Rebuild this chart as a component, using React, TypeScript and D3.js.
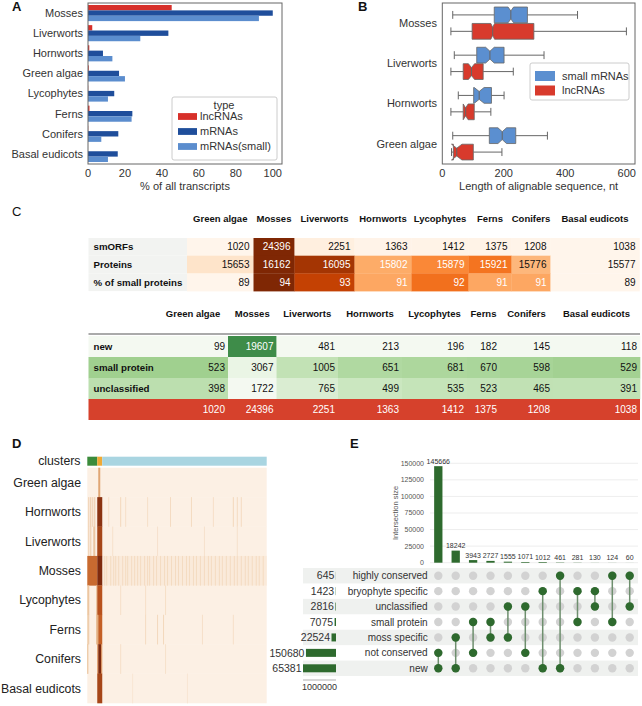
import React from "react";
import * as d3 from "d3";

const FONT = "'Liberation Sans', Arial, Helvetica, sans-serif";

// ---------------- Panel A data ----------------
const speciesA = ["Mosses", "Liverworts", "Hornworts", "Green algae", "Lycophytes", "Ferns", "Conifers", "Basal eudicots"];
const typesA = ["lncRNAs", "mRNAs", "mRNAs(small)"];
const lncRNAsPct = [45.3, 2.3, 0.7, 0.4, 0.1, 0.8, 0.1, 0];
const mRNAsPct = [100, 43.5, 8.1, 16.8, 14.2, 24, 16.4, 16.1];
const mRNAsSmallPct = [92.5, 28.3, 13.2, 20, 10.8, 23.6, 7.2, 10.8];
const ticksA = [0, 20, 40, 60, 80, 100];

// ---------------- Panel B data ----------------
const speciesB = ["Mosses", "Liverworts", "Hornworts", "Green algae"];
const groupsB = ["small mRNAs", "lncRNAs"];
// [whisker low, Q1, median, Q3, whisker high, notch half-width]
const smallMrnaBox = [
  [34, 169, 223, 277, 440, 9],
  [39, 112, 155, 201, 331, 14],
  [52, 102, 120, 160, 201, 16],
  [34, 153, 195, 239, 342, 14],
];
const lncRnaBox = [
  [28, 97, 164, 298, 599, 6],
  [28, 68, 95, 133, 231, 10],
  [28, 68, 76, 104, 158, 8],
  [30, 36, 47, 101, 194, 17],
];
const ticksB = [0, 200, 400, 600];

// ---------------- Panel C data ----------------
const speciesC = ["Green algae", "Mosses", "Liverworts", "Hornworts", "Lycophytes", "Ferns", "Conifers", "Basal eudicots"];
const smORFs = [1020, 24396, 2251, 1363, 1412, 1375, 1208, 1038];
const proteins = [15653, 16162, 16095, 15802, 15879, 15921, 15776, 15577];
const pctSmall = [89, 94, 93, 91, 92, 91, 91, 89];
const newCounts = [99, 19607, 481, 213, 196, 182, 145, 118];
const smallProteinCounts = [523, 3067, 1005, 651, 681, 670, 598, 529];
const unclassifiedCounts = [398, 1722, 765, 499, 535, 523, 465, 391];

// ---------------- Panel D data ----------------
const heatRows = ["Green algae", "Hornworts", "Liverworts", "Mosses", "Lycophytes", "Ferns", "Conifers", "Basal eudicots"];
const clusterSizes = [10, 5, 165];
// [row, first column, last column, intensity]
const heatCells: [number, number, number, number][] = [
  [0, 11, 12, 0.4],
  [1, 1, 1, 0.18], [1, 3, 3, 0.22], [1, 5, 5, 0.18], [1, 7, 7, 0.2], [1, 10, 14, 0.95],
  [1, 21, 21, 0.08], [1, 33, 33, 0.12], [1, 38, 38, 0.08], [1, 60, 60, 0.08], [1, 83, 83, 0.1],
  [1, 104, 104, 0.1], [1, 126, 126, 0.08], [1, 146, 146, 0.12], [1, 150, 150, 0.1], [1, 154, 154, 0.1],
  [2, 1, 1, 0.18], [2, 3, 3, 0.2], [2, 6, 7, 0.22], [2, 10, 14, 0.85],
  [2, 25, 25, 0.07], [2, 70, 70, 0.07], [2, 117, 117, 0.07], [2, 150, 150, 0.07],
  [3, 15, 179, 0.03], [3, 0, 9, 0.68], [3, 10, 14, 1],
  [4, 0, 1, 0.22], [4, 9, 9, 0.3], [4, 10, 14, 0.78], [4, 33, 33, 0.08], [4, 58, 58, 0.08], [4, 78, 78, 0.08],
  [5, 0, 1, 0.18], [5, 9, 10, 0.35], [5, 11, 14, 0.72], [5, 58, 58, 0.1], [5, 70, 70, 0.12],
  [5, 76, 76, 0.12], [5, 115, 115, 0.08], [5, 146, 146, 0.08],
  [6, 0, 0, 0.28], [6, 10, 10, 0.55], [6, 11, 13, 1], [6, 14, 14, 0.55], [6, 33, 33, 0.08], [6, 78, 78, 0.07],
  [7, 10, 14, 0.85], [7, 45, 45, 0.05], [7, 100, 100, 0.05],
];
const mossStripeCols = [17, 19, 23, 26, 28, 31, 35, 38, 40, 44, 47, 50, 53, 57, 60, 62, 66, 69, 73, 77, 80, 84, 88, 91, 95, 99, 102, 106, 109, 113, 117, 121, 124, 128, 132, 135, 139, 143, 147, 150, 154, 158, 161, 165, 169, 172, 176];
const mossStripeLevel = 0.1;

// ---------------- Panel E data ----------------
const setNames = ["highly conserved", "bryophyte specific", "unclassified", "small protein", "moss specific", "not conserved", "new"];
const setSizes = [645, 1423, 2816, 7075, 22524, 150680, 165381];
const setSizeLabels = ["645", "1423", "2816", "7075", "22524", "150680", "65381"];
const intersectionSizes = [145666, 18242, 3943, 2727, 1555, 1071, 1012, 461, 281, 130, 124, 60];
const intersectionMembers = [
  ["not conserved", "new"], ["moss specific", "new"], ["small protein", "not conserved"],
  ["small protein", "moss specific"], ["unclassified", "moss specific"], ["unclassified", "not conserved"],
  ["bryophyte specific", "new"], ["highly conserved", "new"], ["bryophyte specific", "small protein"],
  ["bryophyte specific", "unclassified"], ["highly conserved", "small protein"], ["highly conserved", "unclassified"],
];
const intersectionTicks = [0, 25000, 50000, 75000, 100000, 125000, 150000];
const setSizeAxisLabel = "1000000";

// ---------------- styles ----------------
const colorsA = ["#d7302a", "#1f4e9b", "#5b8dce"];
const colorsB = ["#5b8fd0", "#d83a2c"];
const clusterColors = ["#3b8b3b", "#f0a935", "#a9d5e1"];
const green = "#2e6a2e";

export default function App() {
  // ===== A =====
  const xA = d3.scaleLinear().domain([0, 105]).range([88, 282]);
  const yA = d3.scaleBand<string>().domain(speciesA).range([3, 164]);
  const yAi = d3.scaleBand<string>().domain(typesA).range([0.1 * yA.step(), 0.9 * yA.step()]);
  const seriesA = [lncRNAsPct, mRNAsPct, mRNAsSmallPct];

  // ===== B =====
  const xB = d3.scaleLinear().domain([0, 627]).range([442.3, 635]);
  const yB = d3.scaleBand<string>().domain(speciesB).range([3, 164]);
  const yBi = d3.scaleBand<string>().domain(groupsB).range([0.1 * yB.step(), 0.9 * yB.step()]).paddingInner(0.04);
  const boxesB = [smallMrnaBox, lncRnaBox];

  const notchPath = (b: number[], yc: number, h: number) => {
    const [, q1, med, q3, , n] = b;
    const t = yc - h / 2, bo = yc + h / 2, tq = yc - h / 4, bq = yc + h / 4;
    return `M${xB(q1)},${t}L${xB(med - n)},${t}L${xB(med)},${tq}L${xB(med + n)},${t}L${xB(q3)},${t}` +
      `L${xB(q3)},${bo}L${xB(med + n)},${bo}L${xB(med)},${bq}L${xB(med - n)},${bo}L${xB(q1)},${bo}Z`;
  };

  // ===== C =====
  const t1Widths = [98.5, 66.5, 41, 60, 57, 57, 43, 39, 89];
  const t2Widths = [69.5, 70, 48.5, 61.5, 64, 65, 33, 53, 87];
  const tableX0 = 88.5;
  const edges = (w: number[]) => [tableX0, ...Array.from(d3.cumsum(w), (s) => tableX0 + s)];
  const e1 = edges(t1Widths);
  const e2 = edges(t2Widths);
  const t1Rows = [
    { label: "smORFs", vals: smORFs },
    { label: "Proteins", vals: proteins },
    { label: "% of small proteins", vals: pctSmall },
  ];
  const t2Rows = [
    { label: "new", vals: newCounts },
    { label: "small protein", vals: smallProteinCounts },
    { label: "unclassified", vals: unclassifiedCounts },
  ];
  const greenScale = d3.scaleLinear<string>().domain([0, 0.25, 0.46, 0.8]).range(["#f4f9f1", "#cbe7c0", "#a0d08f", "#3b8a47"]).clamp(true);
  const t1Top = 238, t1H = 17.7, t2Top = 336, t2H = 21;
  const hdrFont = 9.5, valFont = 10, lblFont = 9.7;

  // ===== D =====
  const nCols = d3.sum(clusterSizes);
  const xH = d3.scaleLinear().domain([0, nCols]).range([87.3, 266.7]);
  const yH = d3.scaleBand<string>().domain(heatRows).range([467.7, 703]);
  const heatColor = d3.scaleLinear<string>().domain([0, 0.1, 0.3, 0.55, 0.75, 1])
    .range(["#fcf0e4", "#f4dbc1", "#e6b88c", "#d88a50", "#c0581f", "#7e2a0e"]).clamp(true);
  const clusterStarts = [0, ...Array.from(d3.cumsum(clusterSizes))];
  const allHeat: [number, number, number, number][] = [
    ...heatCells.slice(0, 25),
    ...mossStripeCols.map((c) => [3, c, c, mossStripeLevel] as [number, number, number, number]),
    ...heatCells.slice(25),
  ];

  // ===== E =====
  const idx = intersectionSizes.map((_, i) => i);
  const xE = d3.scalePoint<number>().domain(idx).range([438.3, 629.7]);
  const yE = d3.scaleLinear().domain([0, 150000]).range([562.7, 463.3]);
  const yM = d3.scalePoint<string>().domain(setNames).range([575.7, 668.3]);
  const xS = d3.scaleLinear().domain([0, d3.max(setSizes) as number]).range([336, 303]);
  const rowStep = yM.step();

  return (
    <svg width={642} height={706} style={{ position: "absolute", left: 0, top: 0, background: "#fff" }} fontFamily={FONT}>
      {/* ================= A ================= */}
      <text x={12} y={11} fontSize={13} fontWeight="bold" fill="#111">A</text>
      {speciesA.map((s, i) => (
        <g key={s}>
          {seriesA.map((ser, k) => (
            <rect key={k} x={xA(0)} y={(yA(s) as number) + (yAi(typesA[k]) as number)}
              width={xA(ser[i]) - xA(0)} height={yAi.bandwidth()} fill={colorsA[k]} />
          ))}
          <text x={83} y={(yA(s) as number) + yA.bandwidth() / 2} dy="0.35em" textAnchor="end" fontSize={11} fill="#333">{s}</text>
        </g>
      ))}
      <rect x={88} y={3} width={194} height={161} fill="none" stroke="#666" strokeWidth={1} />
      {ticksA.map((t) => (
        <text key={t} x={xA(t)} y={177} textAnchor="middle" fontSize={11} fill="#333">{t}</text>
      ))}
      <text x={185} y={190} textAnchor="middle" fontSize={11} fill="#333">% of all transcripts</text>
      <g>
        <rect x={172} y={97} width={105} height={63} fill="#fff" fillOpacity={0.85} stroke="#ccc" rx={2} />
        <text x={224} y={109} textAnchor="middle" fontSize={11} fill="#333">type</text>
        {typesA.map((t, k) => (
          <g key={t}>
            <rect x={178} y={116.5 + k * 15 - 3.4} width={19} height={6.8} fill={colorsA[k]} />
            <text x={200} y={116.5 + k * 15} dy="0.35em" fontSize={11} fill="#333">{t}</text>
          </g>
        ))}
      </g>

      {/* ================= B ================= */}
      <text x={358} y={11} fontSize={13} fontWeight="bold" fill="#111">B</text>
      {speciesB.map((s, i) => (
        <g key={s}>
          {groupsB.map((g, k) => {
            const b = boxesB[k][i];
            const h = yBi.bandwidth();
            const yc = (yB(s) as number) + (yBi(g) as number) + h / 2;
            const [lo, q1, med, q3, hi] = b;
            return (
              <g key={g}>
                <line x1={xB(lo)} x2={xB(q1)} y1={yc} y2={yc} stroke="#666" strokeWidth={1} />
                <line x1={xB(q3)} x2={xB(hi)} y1={yc} y2={yc} stroke="#666" strokeWidth={1} />
                <line x1={xB(lo)} x2={xB(lo)} y1={yc - h / 4} y2={yc + h / 4} stroke="#666" strokeWidth={1} />
                <line x1={xB(hi)} x2={xB(hi)} y1={yc - h / 4} y2={yc + h / 4} stroke="#666" strokeWidth={1} />
                <path d={notchPath(b, yc, h)} fill={colorsB[k]} stroke="#666" strokeWidth={0.8} />
                <line x1={xB(med)} x2={xB(med)} y1={yc - h / 4} y2={yc + h / 4} stroke="#666" strokeWidth={1} />
              </g>
            );
          })}
          <text x={437} y={(yB(s) as number) + yB.bandwidth() / 2} dy="0.35em" textAnchor="end" fontSize={11} fill="#333">{s}</text>
        </g>
      ))}
      <rect x={442.3} y={3} width={192.7} height={161} fill="none" stroke="#666" strokeWidth={1} />
      {ticksB.map((t) => (
        <text key={t} x={xB(t)} y={177} textAnchor="middle" fontSize={11} fill="#333">{t}</text>
      ))}
      <text x={538.6} y={190} textAnchor="middle" fontSize={11} fill="#333">Length of alignable sequence, nt</text>
      <g>
        <rect x={530} y={63} width={99} height={37} fill="#fff" fillOpacity={0.85} stroke="#ccc" rx={2} />
        {groupsB.map((g, k) => (
          <g key={g}>
            <rect x={535} y={76 + k * 14.5 - 5} width={20} height={10} fill={colorsB[k]} />
            <text x={562} y={76 + k * 14.5} dy="0.35em" fontSize={11} fill="#333">{g}</text>
          </g>
        ))}
      </g>

      {/* ================= C ================= */}
      <text x={12} y={216} fontSize={13} fill="#111">C</text>
      {/* table 1 */}
      {speciesC.map((s, j) => (
        <text key={s} x={(e1[j + 1] + e1[j + 2]) / 2} y={222} textAnchor="middle" fontSize={hdrFont} fontWeight="bold" fill="#111">{s}</text>
      ))}
      {t1Rows.map((r, ri) => {
        const y = t1Top + ri * t1H;
        const mn = d3.min(r.vals) as number, mx = d3.max(r.vals) as number;
        return (
          <g key={r.label}>
            <rect x={e1[0]} y={y} width={e1[1] - e1[0]} height={t1H} fill="#f2f3f1" />
            <text x={e1[0] + 5} y={y + t1H / 2} dy="0.35em" fontSize={lblFont} fontWeight="bold" fill="#111">{r.label}</text>
            {r.vals.map((v, j) => {
              const t = (v - mn) / (mx - mn);
              return (
                <g key={j}>
                  <rect x={e1[j + 1]} y={y} width={e1[j + 2] - e1[j + 1] + 0.3} height={t1H + 0.3} fill={d3.interpolateOranges(t)} />
                  <text x={e1[j + 2] - 4} y={y + t1H / 2} dy="0.35em" textAnchor="end" fontSize={valFont} fill={t >= 0.37 ? "#fff" : "#111"}>{v}</text>
                </g>
              );
            })}
          </g>
        );
      })}
      {/* table 2 */}
      {speciesC.map((s, j) => (
        <text key={s} x={(e2[j + 1] + e2[j + 2]) / 2} y={317} textAnchor="middle" fontSize={hdrFont} fontWeight="bold" fill="#111">{s}</text>
      ))}
      {t2Rows.map((r, ri) => {
        const y = t2Top + ri * t2H;
        const tOf = (j: number) => {
          const col = t2Rows.map((rr) => rr.vals[j]);
          const mn = d3.min(col) as number;
          return (r.vals[j] - mn) / (smORFs[j] - mn);
        };
        return (
          <g key={r.label}>
            <rect x={e2[0]} y={y} width={e2[1] - e2[0] + 0.3} height={t2H + 0.3} fill={greenScale(tOf(0))} />
            <text x={e2[0] + 5} y={y + t2H / 2} dy="0.35em" fontSize={lblFont} fontWeight="bold" fill="#111">{r.label}</text>
            {r.vals.map((v, j) => {
              const t = tOf(j);
              return (
                <g key={j}>
                  <rect x={e2[j + 1]} y={y} width={e2[j + 2] - e2[j + 1] + 0.3} height={t2H + 0.3} fill={greenScale(t)} />
                  <text x={e2[j + 2] - 3} y={y + t2H / 2} dy="0.35em" textAnchor="end" fontSize={valFont} fill={t >= 0.6 ? "#fff" : "#111"}>{v}</text>
                </g>
              );
            })}
          </g>
        );
      })}
      <rect x={e2[0]} y={t2Top + 3 * t2H} width={e2[9] - e2[0]} height={t2H} fill="#d6412c" />
      {smORFs.map((v, j) => (
        <text key={j} x={e2[j + 2] - 3} y={t2Top + 3.5 * t2H} dy="0.35em" textAnchor="end" fontSize={valFont} fill="#fff">{v}</text>
      ))}
      <line x1={e2[0]} x2={e2[9]} y1={t2Top - 2} y2={t2Top - 2} stroke="#aaa" strokeWidth={2} />

      {/* ================= D ================= */}
      <text x={12} y={448} fontSize={13} fontWeight="bold" fill="#111">D</text>
      <text x={80.5} y={461} dy="0.35em" textAnchor="end" fontSize={12.3} fill="#222">clusters</text>
      {clusterSizes.map((n, k) => (
        <rect key={k} x={xH(clusterStarts[k])} y={456.7} width={xH(clusterStarts[k] + n) - xH(clusterStarts[k])} height={9} fill={clusterColors[k]} />
      ))}
      {heatRows.map((r) => (
        <rect key={r} x={xH(0)} y={yH(r) as number} width={xH(nCols) - xH(0)} height={yH.bandwidth() + 0.3} fill={heatColor(0)} />
      ))}
      {allHeat.map(([ri, c0, c1, v], i) => (
        <rect key={i} x={xH(c0)} y={yH(heatRows[ri]) as number} width={xH(c1 + 1) - xH(c0)} height={yH.bandwidth() + 0.3} fill={heatColor(v)} />
      ))}
      {heatRows.map((r) => (
        <text key={r} x={81} y={(yH(r) as number) + yH.bandwidth() / 2} dy="0.35em" textAnchor="end" fontSize={12.3} fill="#222">{r}</text>
      ))}

      {/* ================= E ================= */}
      <text x={350} y={448} fontSize={13} fontWeight="bold" fill="#111">E</text>
      {intersectionTicks.map((t) => (
        <g key={t}>
          <line x1={430} x2={638} y1={yE(t)} y2={yE(t)} stroke="#e8e8e8" strokeWidth={0.8} />
          <text x={424} y={yE(t)} dy="0.35em" textAnchor="end" fontSize={7} fill="#555">{t}</text>
        </g>
      ))}
      <text transform={`translate(398,513) rotate(-90)`} textAnchor="middle" fontSize={7.5} fill="#555">Intersection size</text>
      {intersectionSizes.map((v, i) => (
        <g key={i}>
          <rect x={(xE(i) as number) - 4.15} y={yE(v)} width={8.3} height={yE(0) - yE(v)} fill={green} />
          <text x={xE(i) as number} y={yE(v) - 2.5} textAnchor="middle" fontSize={7} fill="#333">{v}</text>
        </g>
      ))}
      {setNames.map((s, k) => (
        k % 2 === 0 ? <rect key={s} x={303} y={(yM(s) as number) - rowStep / 2} width={335} height={rowStep} fill="#eff1ef" /> : null
      ))}
      {setNames.map((s, k) => (
        <g key={s}>
          <text x={427.7} y={yM(s) as number} dy="0.35em" textAnchor="end" fontSize={10} fill="#333">{s}</text>
          <rect x={xS(setSizes[k])} y={(yM(s) as number) - 4} width={336 - xS(setSizes[k])} height={8} fill={green} />
          <text x={xS(setSizes[k]) - 1.5} y={yM(s) as number} dy="0.35em" textAnchor="end" fontSize={10.5} fill="#333">{setSizeLabels[k]}</text>
        </g>
      ))}
      <line x1={303} x2={336} y1={680} y2={680} stroke="#999" strokeWidth={0.8} />
      <text x={319.5} y={690} textAnchor="middle" fontSize={9} fill="#333">{setSizeAxisLabel}</text>
      {idx.map((i) => (
        <g key={i}>
          {setNames.map((s) => (
            <circle key={s} cx={xE(i) as number} cy={yM(s) as number} r={4.2} fill="#d2d2d2" />
          ))}
        </g>
      ))}
      {idx.map((i) => {
        const ys = intersectionMembers[i].map((m) => yM(m) as number);
        return <line key={i} x1={xE(i) as number} x2={xE(i) as number} y1={d3.min(ys)} y2={d3.max(ys)} stroke="#6e8f6e" strokeWidth={1.5} />;
      })}
      {idx.map((i) => (
        <g key={i}>
          {intersectionMembers[i].map((m) => (
            <circle key={m} cx={xE(i) as number} cy={yM(m) as number} r={4.2} fill={green} />
          ))}
        </g>
      ))}
    </svg>
  );
}
